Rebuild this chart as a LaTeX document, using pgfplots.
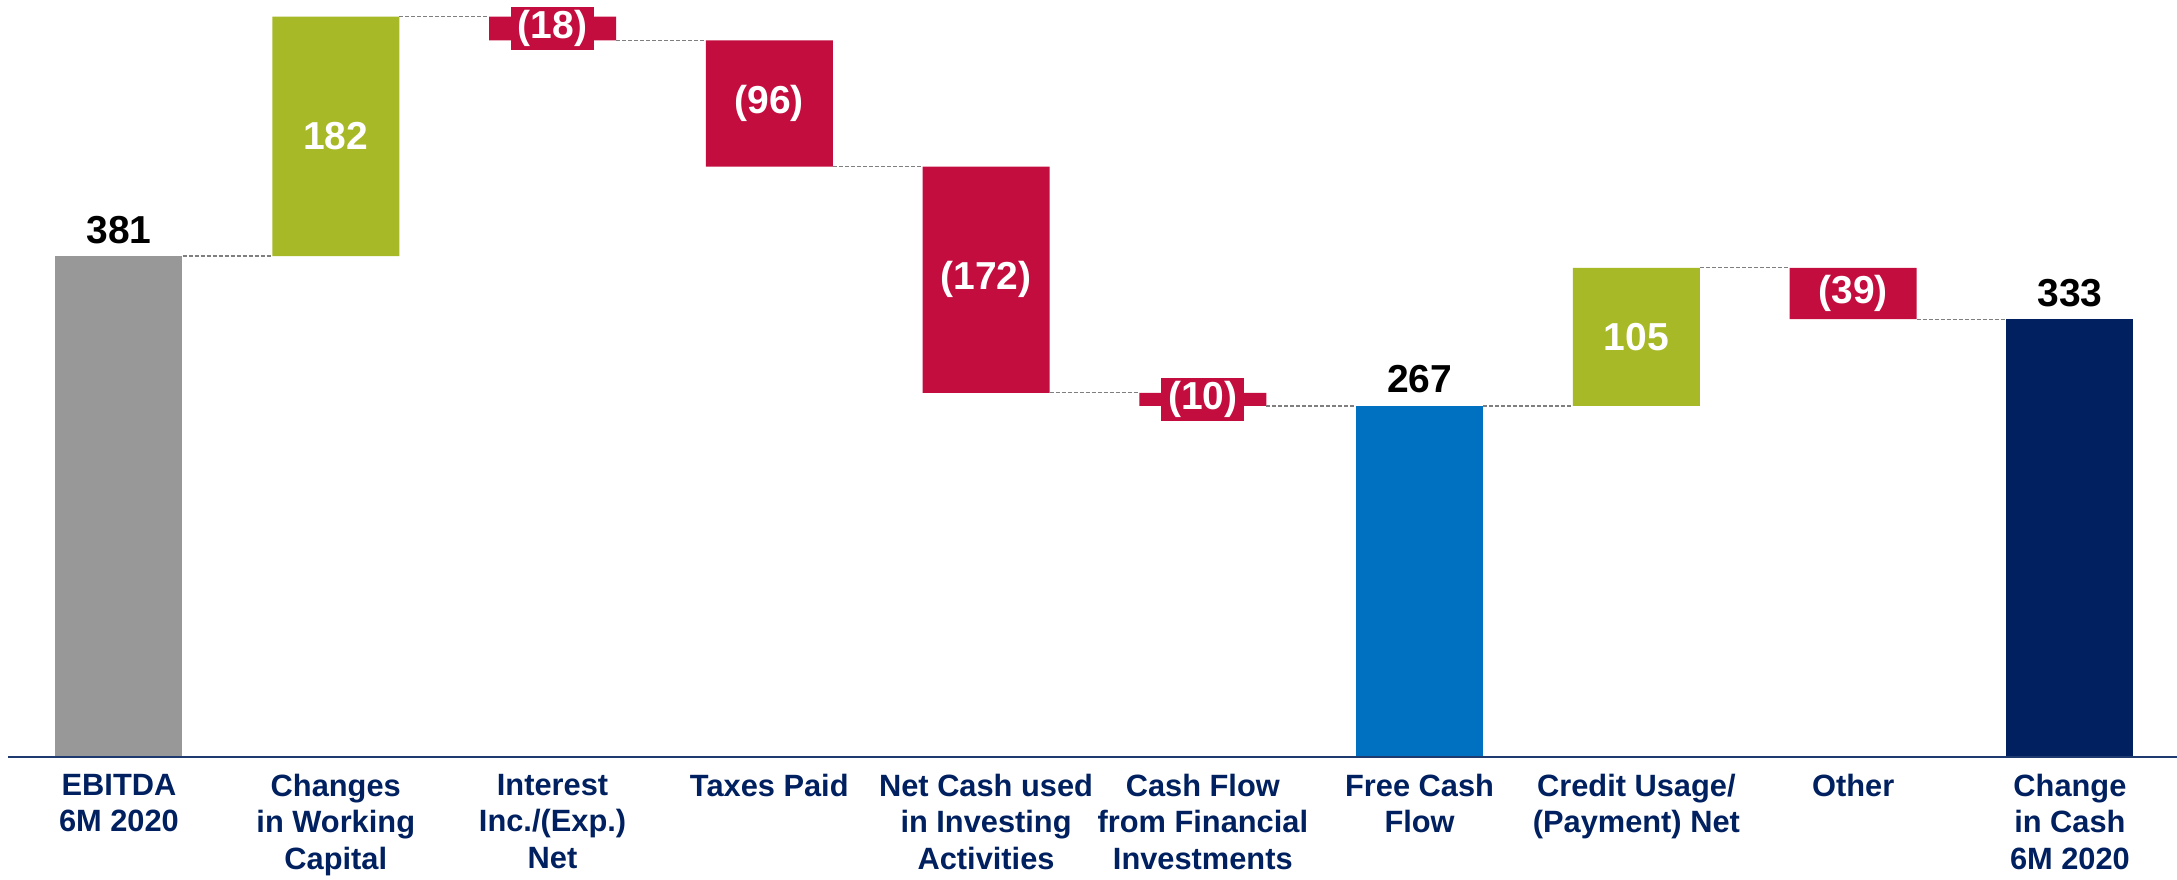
\documentclass[border=0pt]{standalone}
\usepackage{pgfplots}
\pgfplotsset{compat=1.18}
\usepackage{pgfplotstable}
\usepackage{fontspec}
\setmainfont{Liberation Sans}

\definecolor{wfgray}{HTML}{989898}
\definecolor{wfgreen}{HTML}{A8B928}
\definecolor{wfred}{HTML}{C30D3E}
\definecolor{wfblue}{HTML}{0070C0}
\definecolor{wfnavy}{HTML}{002060}
\definecolor{axisnavy}{HTML}{1F3A6E}
\definecolor{linkgray}{HTML}{7F7F7F}

% waterfall: invisible base + one column per colour
\pgfplotstableread{
x base gray green red blue navy
0 0   381 0   0   0   0
1 381 0   182 0   0   0
2 545 0   0   18  0   0
3 449 0   0   96  0   0
4 277 0   0   172 0   0
5 267 0   0   10  0   0
6 0   0   0   0   267 0
7 267 0   105 0   0   0
8 333 0   0   39  0   0
9 0   0   0   0   0   333
}\bars

\begin{document}
\begin{tikzpicture}
\pgfplotsset{wf/.style={
  scale only axis, width=1084.5pt, height=378.5pt,
  xmin=-0.512, xmax=9.494, ymin=0, ymax=575.7,
  enlargelimits=false}}

\begin{axis}[wf,
  ybar stacked, bar width=63.5pt,
  hide y axis, axis x line*=bottom,
  x axis line style={color=axisnavy, line width=1pt},
  axis on top,
  xtick={0,...,9}, major tick length=0pt,
  xticklabels={{EBITDA\\6M 2020},{Changes\\in Working\\Capital},{Interest\\Inc./(Exp.)\\Net},
    {Taxes Paid},{Net Cash used\\in Investing\\Activities},{Cash Flow\\from Financial\\Investments},
    {Free Cash\\Flow},{Credit Usage/\\(Payment) Net},{Other},{Change\\in Cash\\6M 2020}},
  xticklabel style={font=\bfseries\fontsize{15.4}{18.2}\selectfont, text=wfnavy,
    align=center, anchor=north, inner sep=0pt, yshift=-8.4pt}
]
\addplot[draw=none, fill=none] table[x=x, y=base] {\bars};
\addplot[draw=none, fill=wfgray] table[x=x, y=gray] {\bars};
\addplot[draw=none, fill=wfgreen] table[x=x, y=green] {\bars};
\addplot[draw=none, fill=wfred] table[x=x, y=red] {\bars};
\addplot[draw=none, fill=wfblue] table[x=x, y=blue] {\bars};
\addplot[draw=none, fill=wfnavy] table[x=x, y=navy] {\bars};
\end{axis}

\begin{axis}[wf, hide axis, unbounded coords=jump]
% dashed links between neighbouring bars
\addplot[linkgray, line width=0.6pt, dash pattern=on 2pt off 1pt, mark=none] coordinates {
  (0.293,381) (0.707,381) (nan,nan)
  (1.293,563) (1.707,563) (nan,nan)
  (2.293,545) (2.707,545) (nan,nan)
  (3.293,449) (3.707,449) (nan,nan)
  (4.293,277) (4.707,277) (nan,nan)
  (5.293,267) (5.707,267) (nan,nan)
  (6.293,267) (6.707,267) (nan,nan)
  (7.293,372) (7.707,372) (nan,nan)
  (8.293,333) (8.707,333)
};
% totals above the bars
\addplot[draw=none, mark=none, nodes near coords, point meta=explicit symbolic,
  every node near coord/.style={anchor=base, yshift=6.5pt, text=black,
    font=\bfseries\fontsize{19.5}{20}\selectfont}]
  table[x=x, y=y, meta=lab] {
x y lab
0 381 381
6 267 267
9 333 333
};
% increases, inside the bars
\addplot[draw=none, mark=none, nodes near coords, point meta=explicit symbolic,
  every node near coord/.style={anchor=center, text=white,
    font=\bfseries\fontsize{19.5}{20}\selectfont}]
  table[x=x, y=y, meta=lab] {
x y lab
1 472 182
7 319.5 105
};
% decreases, on a red box
\addplot[draw=none, mark=none, nodes near coords, point meta=explicit symbolic,
  every node near coord/.style={anchor=center, text=white, fill=wfred,
    inner xsep=3.4pt, inner ysep=1.8pt,
    font=\bfseries\fontsize{19.5}{20}\selectfont}]
  table[x=x, y=y, meta=lab] {
x y lab
2 554 (18)
3 497 (96)
4 363 (172)
5 272 (10)
8 352.5 (39)
};
\end{axis}
\pgfresetboundingbox
\path ([xshift=-4pt,yshift=-61pt]current axis.south west) rectangle (current axis.north east);
\end{tikzpicture}
\end{document}
